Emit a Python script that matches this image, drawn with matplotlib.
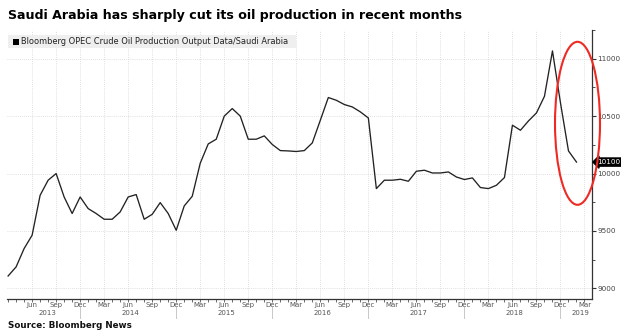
import matplotlib.pyplot as plt
import matplotlib.patches as mpatches
import matplotlib.ticker as mticker
import numpy as np

# Saudi Arabia crude output, thousand barrels/day, monthly Mar 2013 - Feb 2019
first_month = 2  # months after Jan 2013
production = [
    # 2013 (Mar-Dec)
    9108, 9187, 9347, 9463, 9811, 9942, 10000, 9796, 9652, 9796,
    # 2014
    9695, 9652, 9602, 9602, 9666, 9796, 9817, 9602, 9645, 9747, 9652, 9506,
    # 2015
    9718, 9802, 10090, 10258, 10299, 10500, 10566, 10500, 10299, 10299, 10328, 10253,
    # 2016
    10200, 10197, 10192, 10200, 10267, 10464, 10662, 10638, 10601, 10580, 10537, 10484,
    # 2017
    9869, 9942, 9942, 9950, 9933, 10020, 10029, 10005, 10005, 10014, 9970, 9948,
    # 2018
    9962, 9878, 9869, 9898, 9965, 10421, 10377, 10458, 10528, 10673, 11068, 10615,
    # 2019 (Jan-Feb)
    10197, 10100,
]
years = [2013, 2014, 2015, 2016, 2017, 2018, 2019]
month_names = ["Jan", "Feb", "Mar", "Apr", "May", "Jun",
               "Jul", "Aug", "Sep", "Oct", "Nov", "Dec"]
last_label = "10100"

W, H = 621, 332
fig = plt.figure(figsize=(W / 100, H / 100), dpi=100)
ax = fig.add_axes([7.3 / W, 1 - 299.3 / H, (591.7 - 7.3) / W, (299.3 - 30) / H])

x = np.arange(len(production)) + first_month
ax.plot(x, production, color="#222222", lw=0.95, zorder=3)

x0, x1 = 1.9, 74.9
ax.set_xlim(x0, x1)
ax.set_ylim(8905, 11250)

# right-hand value axis
ax.yaxis.tick_right()
ax.yaxis.set_major_locator(mticker.MultipleLocator(500))
ax.yaxis.set_minor_locator(mticker.MultipleLocator(250))
ax.tick_params(axis="y", which="major", length=3, width=0.8, color="#333333",
               labelsize=5.2, labelcolor="#444444", pad=1)
ax.tick_params(axis="y", which="minor", length=2, width=0.6, color="#333333")

# quarterly month labels (Mar/Jun/Sep/Dec), monthly ticks underneath
quarter_ticks = [m for m in range(5, int(x1) + 1) if m % 3 == 2]
ax.set_xticks(quarter_ticks)
ax.set_xticklabels([month_names[m % 12] for m in quarter_ticks])
ax.xaxis.set_minor_locator(mticker.MultipleLocator(1))
ax.tick_params(axis="x", which="both", direction="out", length=1.8, width=0.6,
               color="#555555", labelsize=5, labelcolor="#555555", pad=0.5)

ax.grid(True, which="major", color="#d6d6d6", lw=0.6, ls=(0, (1, 1.5)))

for side in ["top", "left"]:
    ax.spines[side].set_visible(False)
ax.spines["right"].set_color("#333333")
ax.spines["right"].set_linewidth(0.9)
ax.spines["bottom"].set_color("#333333")
ax.spines["bottom"].set_linewidth(0.9)

# year labels and separators under the month labels
xt = ax.get_xaxis_transform()
for i, yr in enumerate(years):
    start = 12 * i
    lo, hi = max(start, x0), min(start + 12, x1)
    if lo == start and hi == start + 12:
        centre = start + 5.3
    else:
        centre = (lo + hi) / 2
    ax.text(centre, -0.05, str(yr), transform=xt,
            ha="center", va="center", fontsize=5, color="#555555")
    sep = start + 11
    if sep < x1:
        ax.plot([sep, sep], [-0.03, -0.07], transform=xt,
                color="#c8c8c8", lw=0.7, clip_on=False)

# latest value flag on the right axis
ax.annotate(last_label, xy=(x1, production[-1]), xycoords="data",
            xytext=(4, 0), textcoords="offset points", ha="left", va="center",
            fontsize=5.2, color="white",
            bbox=dict(boxstyle="larrow,pad=0.15", fc="black", ec="black"))

# legend strip
leg_box = mpatches.FancyBboxPatch((8 / W, 1 - 48 / H), 288 / W, 13 / H,
                                  boxstyle="square,pad=0", transform=fig.transFigure,
                                  fc="#efefef", ec="none", zorder=5)
fig.add_artist(leg_box)
fig.add_artist(mpatches.Rectangle((13 / W, 1 - 44.5 / H), 6 / W, 6 / H,
                                  transform=fig.transFigure, fc="black", ec="none", zorder=6))
fig.text(21 / W, 1 - 41.5 / H, "Bloomberg OPEC Crude Oil Production Output Data/Saudi Arabia",
         fontsize=5.95, color="#222222", va="center", ha="left", zorder=6)

fig.text(8 / W, 1 - 16 / H, "Saudi Arabia has sharply cut its oil production in recent months",
         fontsize=9.1, fontweight="bold", color="black", va="center", ha="left")
fig.text(8 / W, 1 - 325 / H, "Source: Bloomberg News",
         fontsize=6.3, fontweight="bold", color="#111111", va="center", ha="left")

# highlight ring around the recent drop
ring = mpatches.Ellipse((577.5 / W, 1 - 123.3 / H), 45 / W, 163 / H,
                        transform=fig.transFigure, fill=False, ec="#ee2a24", lw=1.5, zorder=7)
fig.add_artist(ring)

fig.savefig("out.png", dpi=100)
